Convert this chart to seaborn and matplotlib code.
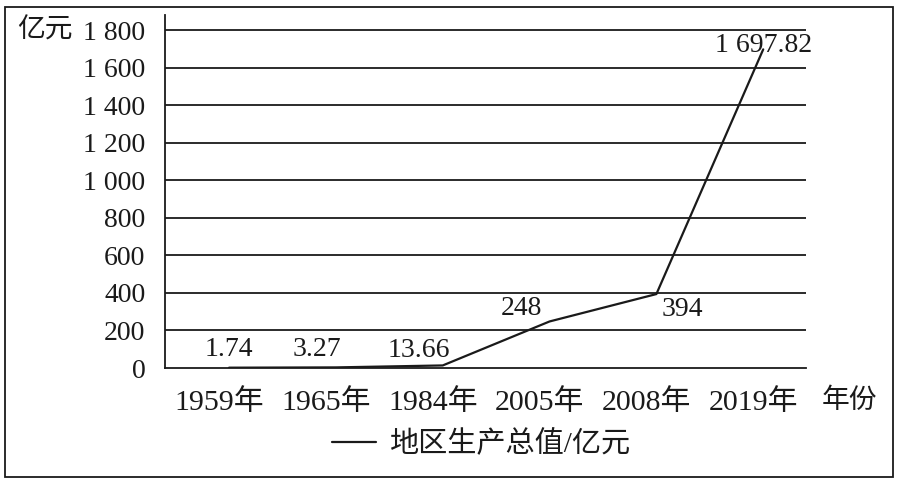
import matplotlib
matplotlib.use("Agg")
import matplotlib.pyplot as plt
import matplotlib.transforms as mtransforms
import seaborn as sns
import pandas as pd
from matplotlib.patches import Rectangle

# data
years = ["1959年", "1965年", "1984年", "2005年", "2008年", "2019年"]
gdp = [1.74, 3.27, 13.66, 248, 394, 1697.82]
value_labels = ["1.74", "3.27", "13.66", "248", "394", "1 697.82"]
y_ticks = [0, 200, 400, 600, 800, 1000, 1200, 1400, 1600, 1800]
y_tick_labels = ["0", "200", "400", "600", "800", "1 000", "1 200", "1 400", "1 600", "1 800"]

sns.set_theme(style="white")
plt.rcParams["font.family"] = ["Liberation Serif", "Noto Sans CJK SC"]
plt.rcParams["text.color"] = "#1a1a1a"

INK = "#1a1a1a"
FS = 20

df = pd.DataFrame({"年份": years, "地区生产总值/亿元": gdp})

fig = plt.figure(figsize=(8.99, 4.82), dpi=100)
ax = fig.add_axes([0.1835, 0.2365, 0.713, 0.732])

sns.lineplot(data=df, x="年份", y="地区生产总值/亿元", sort=False,
             color=INK, lw=1.6, ax=ax, label="地区生产总值/亿元")

ax.set_xlim(-0.6, 5.4)
ax.set_ylim(0, 1880)
ax.set_yticks(y_ticks)
ax.set_yticklabels(y_tick_labels, fontsize=FS, color=INK)
ax.set_xticks(range(len(years)))
ax.set_xticklabels(years, fontsize=21.5, color=INK)
ax.tick_params(axis="x", direction="in", length=4, width=1, color=INK, pad=15)
ax.tick_params(axis="y", length=0, pad=14)
ax.set_xlabel("")
ax.set_ylabel("")

# year labels sit a little left of the tick marks in the original
shift = mtransforms.ScaledTranslation(-10 / 100, 0, fig.dpi_scale_trans)
for lab in ax.get_xticklabels():
    lab.set_transform(lab.get_transform() + shift)

for y in y_ticks[1:]:
    ax.axhline(y, color=INK, lw=1.3, zorder=0)

for side in ["top", "right"]:
    ax.spines[side].set_visible(False)
for side in ["left", "bottom"]:
    ax.spines[side].set_color(INK)
    ax.spines[side].set_linewidth(1.3)

# value labels
offsets = [(0, 13), (-14, 13), (-17, 11), (-20, 9), (19, -11), (0, 3)]
for i, (v, txt, off) in enumerate(zip(gdp, value_labels, offsets)):
    ax.annotate(txt, (i, v), xytext=off, textcoords="offset points",
                ha="center", va="center", fontsize=FS, color=INK)

# axis unit labels
fig.text(17 / 899, 1 - 31 / 482, "亿元", fontsize=FS, color=INK, va="center", ha="left")
fig.text(822 / 899, 1 - 401 / 482, "年份", fontsize=FS, color=INK, va="center", ha="left")

leg = ax.legend(loc="center", bbox_to_anchor=(481 / 899, 1 - 444 / 482),
                bbox_transform=fig.transFigure, frameon=False, fontsize=21,
                handlelength=1.5, handletextpad=0.45)

# outer frame of the figure
fig.patches.append(Rectangle((5 / 899, 5 / 482), 888 / 899, 470 / 482,
                             transform=fig.transFigure, fill=False,
                             edgecolor=INK, lw=1.3))

fig.savefig("out.png", dpi=100)
